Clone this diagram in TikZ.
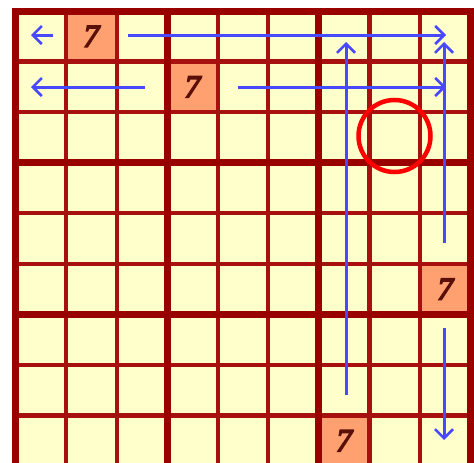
\documentclass[tikz,border=0pt]{standalone}
\usepackage{fontspec}
\setmainfont{Liberation Serif}
\newfontfamily\digitfont[ItalicFeatures={FakeBold=5}]{Liberation Serif}
\usetikzlibrary{arrows.meta}
\definecolor{cellbg}{HTML}{FFFFCC}
\definecolor{givenbg}{HTML}{FFA070}
\definecolor{thinline}{HTML}{A81010}
\definecolor{thickline}{HTML}{990000}
\definecolor{digit}{HTML}{5A1008}
\definecolor{arrowblue}{HTML}{4848FF}
\tikzset{
  given/.style={fill=givenbg, draw=none, minimum width=50.56pt, minimum height=50.56pt, inner sep=0pt,
    text=digit, font=\fontsize{32}{32}\digitfont\itshape},
  thinrule/.style={draw=thinline, line width=4.2pt},
  thickrule/.style={draw=thickline, line width=7pt},
  scan/.style={draw=arrowblue, line width=3pt, -{Straight Barb[length=9pt,width=18pt,line width=2.5pt]}},
  ringmark/.style={draw=red, line width=4.5pt}
}
\begin{document}
\begin{tikzpicture}[x=1pt,y=-1pt]
\useasboundingbox (0,0) rectangle (474,463);
\fill[white] (0,0) rectangle (474,463);
\def\gx{15.5}\def\gy{11}\def\p{50.56}
\fill[cellbg] (\gx,\gy) rectangle ({\gx+9*\p},{\gy+9*\p});
% given cells
\node[given] (g1) at ({\gx+1.5*\p},{\gy+0.5*\p}) {7};
\node[given] (g2) at ({\gx+3.5*\p},{\gy+1.5*\p}) {7};
\node[given] (g3) at ({\gx+8.5*\p},{\gy+5.5*\p}) {7};
\node[given] (g4) at ({\gx+6.5*\p},{\gy+8.5*\p}) {7};
% thin lines
\foreach \k in {1,2,4,5,7,8}{
  \draw[thinrule] ({\gx+\k*\p},\gy) -- ({\gx+\k*\p},{\gy+9*\p});
  \draw[thinrule] (\gx,{\gy+\k*\p}) -- ({\gx+9*\p},{\gy+\k*\p});
}
% thick lines
\foreach \k in {3,6}{
  \draw[thickrule] ({\gx+\k*\p},\gy) -- ({\gx+\k*\p},{\gy+9*\p});
  \draw[thickrule] (\gx,{\gy+\k*\p}) -- ({\gx+9*\p},{\gy+\k*\p});
}
\draw[thickrule] (\gx,\gy) rectangle ({\gx+9*\p},{\gy+9*\p});
% circle
\node[ringmark, circle, minimum size=72pt, inner sep=0pt] (c) at (394.5,136) {};
% arrow coordinates
\coordinate (a1s) at (53,35);  \coordinate (a1e) at (31,35);
\coordinate (a2s) at (128,35); \coordinate (a2e) at (446,35);
\coordinate (a3s) at (145,87); \coordinate (a3e) at (31,87);
\coordinate (a4s) at (238,87); \coordinate (a4e) at (446,87);
\coordinate (a5s) at (346,395); \coordinate (a5e) at (346,42);
\coordinate (a6s) at (444,243); \coordinate (a6e) at (444,42);
\coordinate (a7s) at (444,328); \coordinate (a7e) at (444,440);
\foreach \i in {1,...,7}{ \draw[scan] (a\i s) -- (a\i e); }
\end{tikzpicture}
\end{document}
